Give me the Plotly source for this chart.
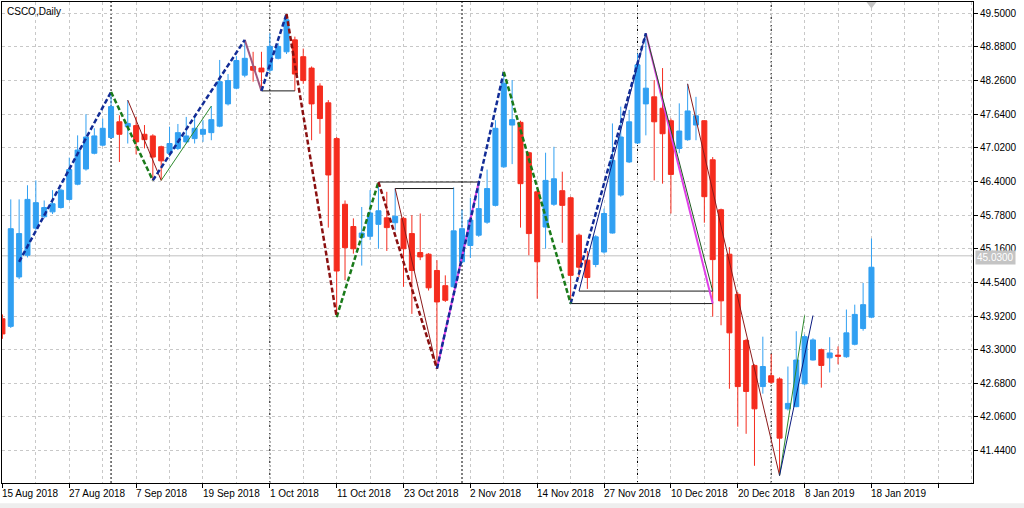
import plotly.graph_objects as go

title_text = "CSCO,Daily"

# OHLC per bar (bar index 0..104)
opens = [43.87, 43.73, 44.64, 45.04, 45.54, 45.75, 45.84, 45.92, 46.07, 46.35,
         46.63, 46.92, 47.07, 47.21, 47.50, 47.41, 47.43, 47.27, 47.24, 47.04,
         46.92, 47.01, 47.13, 47.19, 47.27, 47.30, 47.42, 47.83, 48.12, 48.36,
         48.52, 48.49, 48.45, 48.67, 48.79, 49.01, 48.70, 48.49, 48.16, 47.85,
         47.19, 45.98, 45.57, 45.37, 45.39, 45.61, 45.73, 45.64, 45.72, 45.44,
         45.09, 45.06, 44.76, 44.48, 44.46, 44.92, 45.22, 45.41, 45.65, 45.96,
         46.67, 47.44, 47.49, 46.93, 46.21, 45.56, 45.98, 46.23, 46.10, 45.41,
         44.95, 44.87, 45.10, 45.45, 46.15, 46.76, 47.11, 47.83, 47.96, 47.75,
         47.52, 47.01, 47.17, 47.44, 47.52, 46.80, 45.88, 45.06, 44.32, 43.47,
         43.01, 42.62, 42.82, 42.76, 42.21, 42.25, 42.67, 43.11, 43.30, 43.15,
         43.20, 43.17, 43.40, 43.69, 43.90]
highs = [43.95, 46.07, 46.07, 46.33, 46.42, 46.05, 46.24, 46.27, 46.84, 47.25,
         47.64, 47.38, 47.56, 48.05, 47.62, 47.90, 47.59, 47.44, 47.27, 47.06,
         47.41, 47.46, 47.59, 47.59, 47.53, 47.79, 48.64, 48.38, 48.71, 49.01,
         48.79, 48.79, 49.13, 48.95, 49.49, 49.07, 48.85, 48.52, 48.21, 47.90,
         47.22, 46.05, 45.72, 45.93, 46.24, 46.39, 46.21, 46.27, 45.75, 45.78,
         45.81, 45.08, 44.95, 44.67, 46.29, 45.88, 46.10, 46.39, 46.62, 47.53,
         48.42, 48.27, 47.52, 46.95, 46.24, 46.93, 47.04, 46.58, 46.12, 45.44,
         45.12, 45.41, 45.90, 47.47, 47.78, 47.72, 48.76, 49.13, 48.27, 48.49,
         47.56, 47.84, 48.20, 47.96, 47.53, 46.85, 45.90, 45.19, 44.36, 43.50,
         43.03, 43.54, 43.22, 42.79, 42.99, 43.64, 43.58, 43.51, 43.32, 43.53,
         43.36, 44.04, 44.13, 44.53, 45.35]
lows = [43.50, 43.70, 44.60, 45.00, 45.50, 45.72, 45.80, 45.90, 46.05, 46.33,
        46.60, 46.90, 47.05, 47.19, 46.76, 47.10, 46.90, 47.01, 46.42, 46.42,
        46.85, 46.98, 47.10, 47.10, 47.13, 47.16, 47.40, 47.80, 48.10, 48.32,
        48.24, 48.07, 48.40, 48.65, 48.75, 48.07, 48.20, 47.16, 47.28, 45.55,
        43.90, 44.58, 45.07, 44.85, 45.32, 45.16, 45.12, 45.50, 44.46, 43.96,
        44.95, 44.39, 42.95, 44.18, 44.44, 44.89, 44.99, 45.38, 45.62, 45.94,
        46.65, 46.72, 45.55, 45.04, 44.24, 45.16, 45.95, 45.27, 44.15, 44.64,
        44.42, 44.82, 45.07, 45.44, 46.12, 46.74, 47.09, 47.25, 46.42, 46.36,
        45.81, 46.92, 47.15, 47.16, 45.64, 43.91, 43.75, 42.58, 41.88, 41.75,
        41.16, 42.49, 42.67, 40.98, 42.18, 42.24, 42.64, 43.10, 42.60, 42.88,
        43.03, 43.15, 43.38, 43.65, 43.88]
closes = [43.59, 45.53, 45.44, 46.07, 46.01, 45.92, 45.99, 46.24, 46.62, 46.98,
          47.22, 47.24, 47.38, 47.78, 47.27, 47.47, 47.13, 47.17, 46.85, 46.78,
          47.10, 47.30, 47.24, 47.38, 47.36, 47.54, 48.24, 48.26, 48.63, 48.67,
          48.45, 48.42, 48.89, 48.89, 49.38, 48.38, 48.26, 47.83, 47.56, 46.52,
          44.75, 45.18, 45.16, 45.45, 45.82, 45.86, 45.55, 45.76, 45.16, 44.76,
          45.01, 44.44, 44.18, 44.21, 45.49, 45.53, 45.69, 45.90, 46.27, 47.38,
          48.21, 47.54, 46.36, 45.44, 44.92, 46.42, 46.45, 45.96, 44.67, 44.82,
          44.63, 45.38, 45.81, 46.79, 47.22, 47.50, 48.55, 48.12, 47.50, 47.28,
          46.53, 47.33, 47.70, 47.61, 46.12, 44.96, 44.20, 43.61, 42.62, 42.53,
          42.21, 42.99, 42.70, 41.67, 42.31, 43.11, 43.54, 43.48, 43.01, 43.24,
          43.18, 43.61, 43.95, 44.13, 44.82]

# date labels (bar index, text)
label_bars = [0, 8, 16, 24, 32, 40, 48, 56, 64, 72, 80, 88, 96, 104]
label_texts = ["15 Aug 2018", "27 Aug 2018", "7 Sep 2018", "19 Sep 2018", "1 Oct 2018",
               "11 Oct 2018", "23 Oct 2018", "2 Nov 2018", "14 Nov 2018", "27 Nov 2018",
               "10 Dec 2018", "20 Dec 2018", "8 Jan 2019", "18 Jan 2019"]
# month separators (bar index)
separator_bars = [13, 32, 55, 76, 92]

# price axis levels
price_levels = [49.50, 48.88, 48.26, 47.64, 47.02, 46.40, 45.78, 45.16,
                44.54, 43.92, 43.30, 42.68, 42.06, 41.44]
current_price = 45.03

# zigzag segments (bar0, price0, bar1, price1)
navy_dashed = [(2, 44.92, 13, 48.05), (18, 46.42, 29, 49.01), (31, 48.07, 34, 49.49),
               (52, 42.95, 60, 48.42), (68, 44.15, 77, 49.13)]
green_dashed = [(13, 48.05, 18, 46.42), (40, 43.90, 45, 46.39), (60, 48.42, 68, 44.15)]
maroon_dashed = [(34, 49.49, 40, 43.90), (45, 46.39, 52, 42.95)]
mauve_solid = [(29, 49.01, 31, 48.07)]
maroon_thin = [(15, 47.90, 19, 46.42), (47, 46.27, 52, 42.95), (82, 48.20, 93, 40.98)]
green_thin = [(19, 46.42, 25, 47.79), (93, 40.98, 96, 43.93)]
darkgreen_thin = [(77, 49.13, 85, 44.38)]
navy_thin = [(69, 44.38, 77, 49.13), (93, 40.98, 97, 43.93)]
magenta_lines = [(52, 42.95, 57, 46.39), (77, 49.13, 85, 44.15)]
# horizontal levels (bar0, bar1, price)
black_levels = [(31, 35, 48.07), (45, 57, 46.39), (47, 54, 46.27), (68, 85, 44.15), (69, 85, 44.38)]

BULL = "#31A0F2"
BEAR = "#F52C1E"
FONT = "Liberation Sans"

bars = list(range(len(opens)))
fig = go.Figure()

fig.add_trace(go.Candlestick(
    x=bars, open=opens, high=highs, low=lows, close=closes,
    increasing=dict(line=dict(color=BULL, width=1), fillcolor=BULL),
    decreasing=dict(line=dict(color=BEAR, width=1), fillcolor=BEAR),
    whiskerwidth=0, showlegend=False, hoverinfo="skip"))


def seg_xy(segs):
    xs, ys = [], []
    for x0, y0, x1, y1 in segs:
        xs += [x0, x1, None]
        ys += [y0, y1, None]
    return xs, ys


def add_lines(segs, color, width, dash="solid"):
    xs, ys = seg_xy(segs)
    fig.add_trace(go.Scatter(x=xs, y=ys, mode="lines",
                             line=dict(color=color, width=width, dash=dash),
                             showlegend=False, hoverinfo="skip"))


hx, hy = [], []
for b0, b1, p in black_levels:
    hx += [b0, b1, None]
    hy += [p, p, None]
fig.add_trace(go.Scatter(x=hx, y=hy, mode="lines", line=dict(color="#1a1a1a", width=1),
                         showlegend=False, hoverinfo="skip"))

add_lines(mauve_solid, "#a0587e", 2)
add_lines(magenta_lines, "#e040e8", 2)
add_lines(maroon_thin, "#8b1a1a", 1)
add_lines(green_thin, "#2e8b2e", 1)
add_lines(darkgreen_thin, "#1e5a1e", 1)
add_lines(navy_thin, "#0a1a80", 1)
add_lines(navy_dashed, "#122c96", 2.5, "5px,2.5px")
add_lines(green_dashed, "#1a7a1a", 2.5, "5px,2.5px")
add_lines(maroon_dashed, "#8a1010", 2.5, "5px,2.5px")

# gray shift marker at top
fig.add_trace(go.Scatter(x=[104], y=[49.67], mode="markers",
                         marker=dict(symbol="triangle-down", size=9, color="#c4c4c4"),
                         cliponaxis=False, showlegend=False, hoverinfo="skip"))

shapes = []
for b in separator_bars:
    shapes.append(dict(type="line", xref="x", yref="paper", x0=b, x1=b, y0=0, y1=1,
                       line=dict(color="#000000", width=1, dash="2px,2px"), layer="below"))
shapes.append(dict(type="line", xref="paper", yref="y", x0=0, x1=1,
                   y0=current_price, y1=current_price,
                   line=dict(color="#c0c0c0", width=1), layer="below"))
shapes.append(dict(type="rect", xref="paper", yref="paper", x0=-0.01, x1=1.06,
                   y0=-0.052, y1=-0.042, fillcolor="#eeeeee", line=dict(width=0)))

annotations = [dict(text=title_text, xref="paper", yref="paper", x=0, y=1,
                    xanchor="left", yanchor="top", xshift=3, yshift=-2,
                    showarrow=False, font=dict(family=FONT, size=10, color="#000000"))]
for b, t in zip(label_bars, label_texts):
    annotations.append(dict(text=t, xref="x", yref="paper", x=b, y=0,
                            xanchor="left", yanchor="top", xshift=-2, yshift=-3,
                            showarrow=False, font=dict(family=FONT, size=10, color="#000000")))
annotations.append(dict(text="45.0300", xref="paper", yref="y", x=1, y=current_price,
                        xanchor="left", yanchor="middle", xshift=2, yshift=-2,
                        showarrow=False, bgcolor="#c4c4c4", borderpad=1,
                        font=dict(family=FONT, size=10, color="#ffffff")))

fig.update_layout(
    width=1024, height=508,
    margin=dict(l=2, r=51, t=2, b=25),
    paper_bgcolor="white", plot_bgcolor="white",
    boxgap=0.2, boxgroupgap=0.25,
    shapes=shapes, annotations=annotations,
    font=dict(family=FONT, size=10, color="#000000"),
    xaxis=dict(range=[-0.05, 116.15], rangeslider=dict(visible=False),
               automargin=False,
               tickmode="linear", tick0=0, dtick=8, showticklabels=False,
               ticks="outside", ticklen=4, tickcolor="#000000",
               showgrid=True, gridcolor="#c8c8c8", griddash="3px,3px", gridwidth=1,
               minor=dict(tick0=0, dtick=4, showgrid=True, gridcolor="#c8c8c8",
                          griddash="3px,3px", ticks=""),
               showline=True, linecolor="#000000", linewidth=1, mirror=True,
               zeroline=False, fixedrange=True),
    yaxis=dict(range=[40.843, 49.708], side="right", automargin=False,
               tickmode="array", tickvals=price_levels,
               ticktext=["%.4f" % v for v in price_levels],
               ticks="outside", ticklen=4, tickcolor="#000000",
               tickfont=dict(family=FONT, size=10, color="#000000"),
               showgrid=True, gridcolor="#c8c8c8", griddash="3px,3px", gridwidth=1,
               showline=True, linecolor="#000000", linewidth=1, mirror=True,
               zeroline=False, fixedrange=True),
)

fig.write_html("out.html", config={"displayModeBar": False},
               post_script="document.body.style.margin='0px';document.body.style.overflow='hidden';")
